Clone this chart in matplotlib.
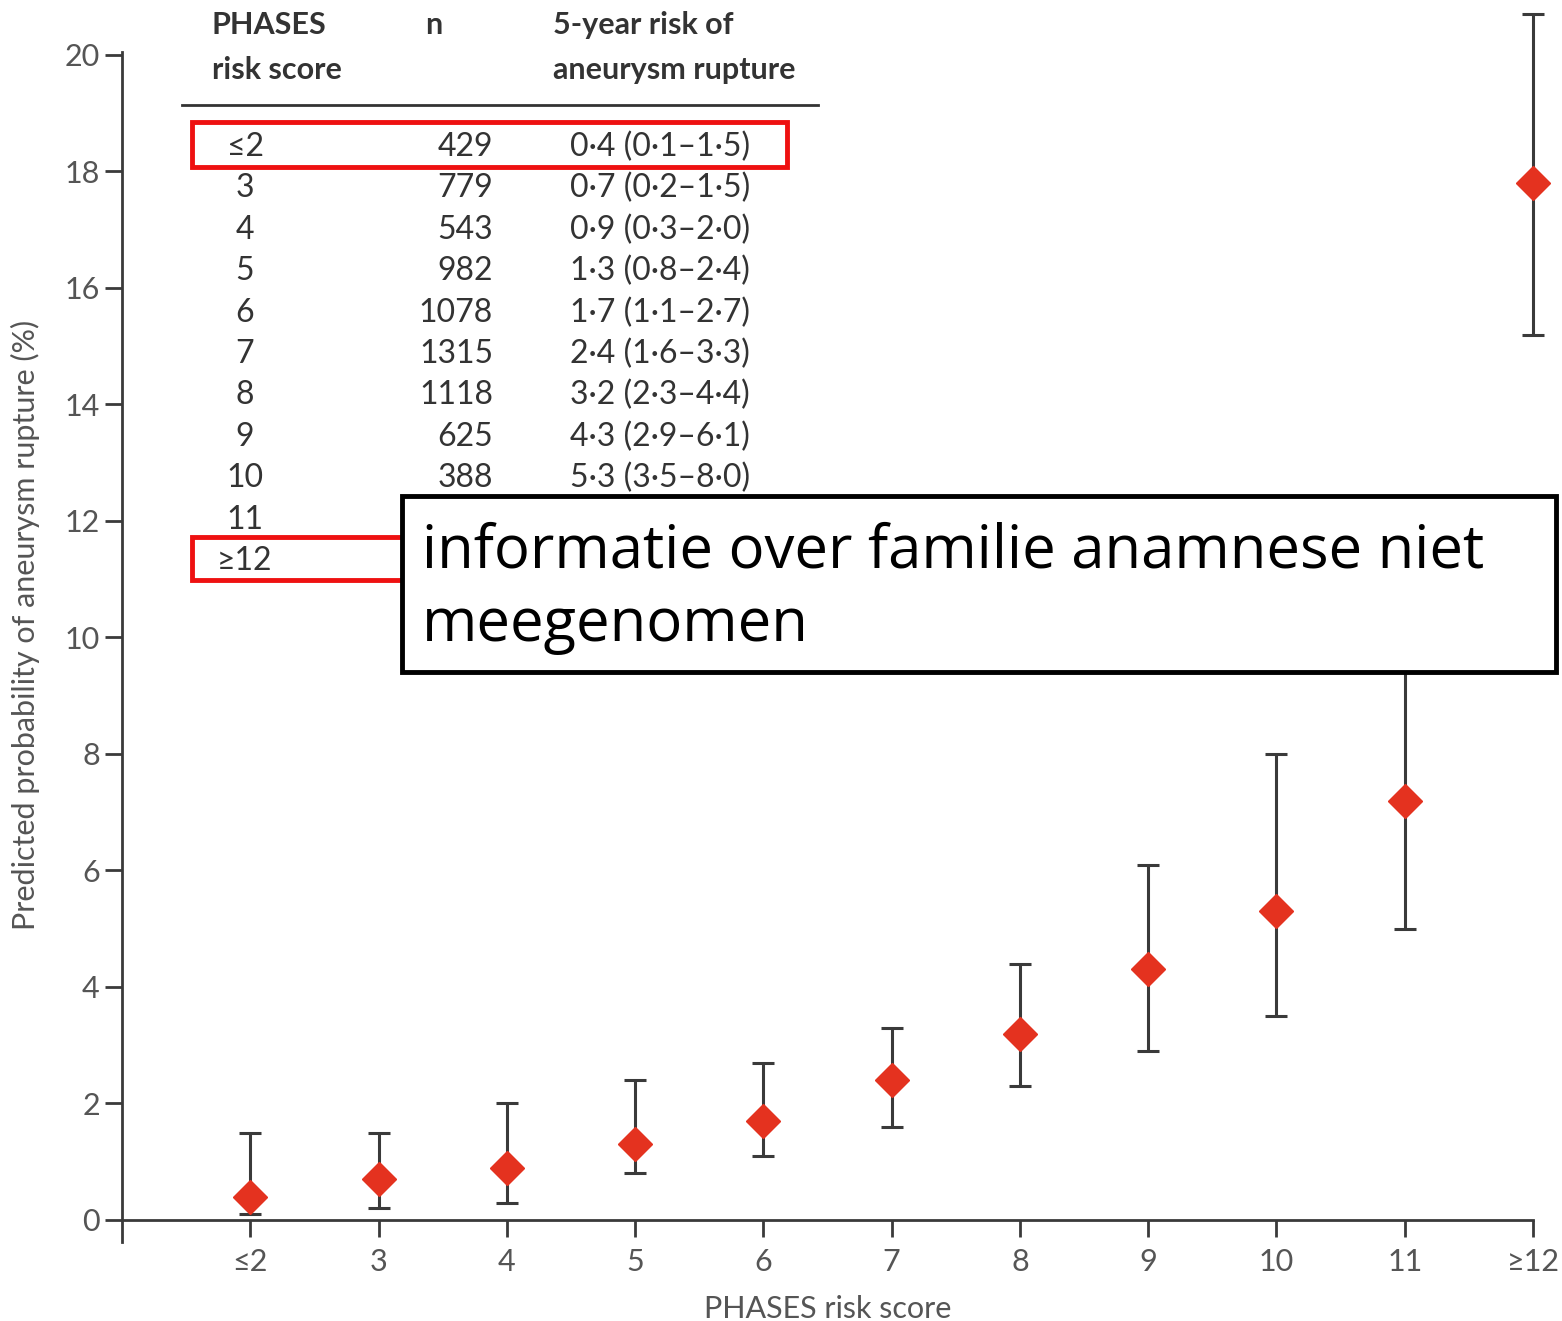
import numpy as np
import matplotlib.pyplot as plt
from matplotlib.patches import Rectangle

# risk score categories and predicted 5-year rupture risk (%)
scores = ['≤2', '3', '4', '5', '6', '7', '8', '9', '10', '11', '≥12']
risk = [0.4, 0.7, 0.9, 1.3, 1.7, 2.4, 3.2, 4.3, 5.3, 7.2, 17.8]
risk_lo = [0.1, 0.2, 0.3, 0.8, 1.1, 1.6, 2.3, 2.9, 3.5, 5.0, 15.2]
risk_hi = [1.5, 1.5, 2.0, 2.4, 2.7, 3.3, 4.4, 6.1, 8.0, 10.2, 20.7]

# inset table (last two rows are hidden behind the note)
table_n = ['429', '779', '543', '982', '1078', '1315', '1118', '625', '388', '', '']
table_risk = ['0·4 (0·1–1·5)', '0·7 (0·2–1·5)', '0·9 (0·3–2·0)', '1·3 (0·8–2·4)',
              '1·7 (1·1–2·7)', '2·4 (1·6–3·3)', '3·2 (2·3–4·4)', '4·3 (2·9–6·1)',
              '5·3 (3·5–8·0)', '', '']

note = 'informatie over familie anamnese niet\nmeegenomen'

W, H = 1562, 1321
fn = ['Lato', 'DejaVu Sans']
fig = plt.figure(figsize=(W / 100, H / 100), dpi=100)
ax = fig.add_axes([122 / W, 79 / H, (1533 - 122) / W, (1242 - 52) / H])

x = np.arange(len(scores))
risk = np.array(risk)
yerr = [risk - np.array(risk_lo), np.array(risk_hi) - risk]
ax.errorbar(x, risk, yerr=yerr, fmt='none', ecolor='#3a3a3a', elinewidth=2.2,
            capsize=8, capthick=2.2, clip_on=False, zorder=2)
ax.plot(x, risk, 'D', color='#e4321f', markersize=17, clip_on=False, zorder=3)

ax.set_xlim(-1, 10)
ax.set_ylim(-0.378, 20.05)
ax.set_yticks(np.arange(0, 21, 2))
ax.set_xticks(x)
ax.set_xticklabels(scores)

ax.spines['top'].set_visible(False)
ax.spines['right'].set_visible(False)
ax.spines['bottom'].set_position(('data', 0))
for s in ['left', 'bottom']:
    ax.spines[s].set_linewidth(2)
    ax.spines[s].set_color('#3a3a3a')
ax.tick_params(axis='both', colors='#3a3a3a', width=2, length=12,
               labelcolor='#555555')
ax.tick_params(axis='x', pad=8)
ax.tick_params(axis='y', pad=4)

for lab in ax.get_xticklabels() + ax.get_yticklabels():
    lab.set_family(fn)
    lab.set_fontsize(22)

ax.set_xlabel('PHASES risk score', family=fn, fontsize=22, color='#555555', labelpad=14)
fig.text(25 / W, 1 - 625 / H, 'Predicted probability of aneurysm rupture (%)',
         rotation=90, ha='center', va='center', family=fn, fontsize=22, color='#555555')

# inset table header
tc = '#333333'
hdr = dict(ha='left', va='center', family=fn, fontsize=22, color=tc, fontweight='bold')
fig.text(212 / W, 1 - 25 / H, 'PHASES', **hdr)
fig.text(212 / W, 1 - 70 / H, 'risk score', **hdr)
fig.text(425 / W, 1 - 25 / H, 'n', **hdr)
fig.text(553 / W, 1 - 25 / H, '5-year risk of', **hdr)
fig.text(553 / W, 1 - 70 / H, 'aneurysm rupture', **hdr)
fig.add_artist(plt.Line2D([182 / W, 818 / W], [1 - 105 / H, 1 - 105 / H], color=tc, lw=2))

for i, s in enumerate(scores):
    yy = 1 - (147 + i * 41.4) / H
    fig.text(245 / W, yy, s, ha='center', va='center', family=fn, fontsize=23, color=tc)
    fig.text(493 / W, yy, table_n[i], ha='right', va='center', family=fn, fontsize=23, color=tc)
    fig.text(570 / W, yy, table_risk[i], ha='left', va='center', family=fn, fontsize=23, color=tc)

# red highlight boxes
for top, bot in [(122, 167), (537, 580)]:
    fig.add_artist(Rectangle((192 / W, 1 - bot / H), (787 - 192) / W, (bot - top) / H,
                             fill=False, edgecolor='#ee1111', lw=3.5))

# note box
fig.add_artist(Rectangle((402 / W, 1 - 672 / H), (1556 - 402) / W, (672 - 496) / H,
                         facecolor='white', edgecolor='black', lw=3.5, zorder=10))
fig.text(422 / W, 1 - 588 / H, note, ha='left', va='center', family='Open Sans',
         fontsize=43, color='black', linespacing=1.3, zorder=11)

fig.savefig('out.png', dpi=100)
